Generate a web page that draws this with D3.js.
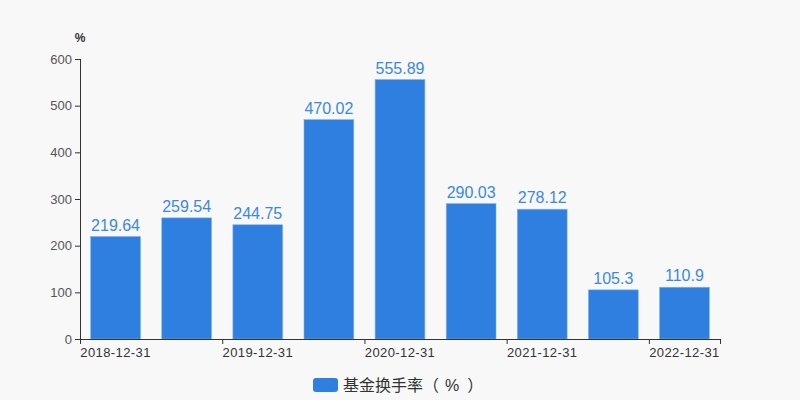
<!DOCTYPE html>
<html><head><meta charset="utf-8">
<script src="https://cdn.jsdelivr.net/npm/d3@7"></script>
<style>body{margin:0;background:#f8f8f8;}svg{display:block;} .lg{text-spacing-trim:space-all;}</style>
</head><body><svg id="c" width="800" height="400"></svg>
<script>
const categories = ["2018-12-31","2019-06-30","2019-12-31","2020-06-30","2020-12-31","2021-06-30","2021-12-31","2022-06-30","2022-12-31"];
const values = [219.64,259.54,244.75,470.02,555.89,290.03,278.12,105.3,110.9];
const labels = ["219.64","259.54","244.75","470.02","555.89","290.03","278.12","105.3","110.9"];
const yTicks = [0,100,200,300,400,500,600];
const seriesNameParts = ["基金换手率（","%","）"];

const svg = d3.select("#c");
svg.append("rect").attr("width",800).attr("height",400).attr("fill","#f8f8f8");
const font = "'Liberation Sans', Arial, 'Noto Sans CJK SC', sans-serif";
const x = d3.scaleBand().domain(categories).range([80,720]).padding(0);
const y = d3.scaleLinear().domain([0,600]).range([339,59]);
const color = "#2e7fe0";

// y axis
const ya = svg.append("g");
ya.append("line").attr("x1",80.5).attr("x2",80.5).attr("y1",y(0)).attr("y2",y(600)).attr("stroke","#333");
yTicks.forEach(t=>{
  ya.append("line").attr("x1",75).attr("x2",80).attr("y1",y(t)+0.5).attr("y2",y(t)+0.5).attr("stroke","#333");
  ya.append("text").attr("x",72).attr("y",y(t)).attr("dy","0.35em").attr("text-anchor","end")
    .attr("font-size",13).attr("fill","#555").attr("font-family",font).text(t);
});
svg.append("text").attr("x",80).attr("y",42).attr("text-anchor","middle").attr("font-size",12)
  .attr("font-weight","bold").attr("fill","#333").attr("font-family",font).text("%");

// bars
const bw = x.bandwidth()*0.7;
svg.selectAll("rect.bar").data(values).enter().append("rect").attr("class","bar")
  .attr("x",(d,i)=>x(categories[i])+(x.bandwidth()-bw)/2).attr("width",bw)
  .attr("y",d=>y(d)).attr("height",d=>y(0)-y(d))
  .attr("fill",color).attr("stroke","#7fb0ee").attr("stroke-width",0.6);
svg.selectAll("text.lbl").data(values).enter().append("text").attr("class","lbl")
  .attr("x",(d,i)=>x(categories[i])+x.bandwidth()/2).attr("y",d=>y(d)-6)
  .attr("text-anchor","middle").attr("font-size",16).attr("fill","#3b88e3").attr("font-family",font)
  .text((d,i)=>labels[i]);

// x axis
const xa = svg.append("g");
xa.append("line").attr("x1",80).attr("x2",720).attr("y1",339.5).attr("y2",339.5).attr("stroke","#333");
categories.forEach((c,i)=>{
  if(i%2===0){
    xa.append("line").attr("x1",x(c)+0.5).attr("x2",x(c)+0.5).attr("y1",339).attr("y2",344).attr("stroke","#333");
    xa.append("text").attr("x",x(c)+x.bandwidth()/2).attr("y",357).attr("text-anchor","middle")
      .attr("font-size",13).attr("letter-spacing",0.4).attr("fill","#333").attr("font-family",font).text(c);
  }
});
xa.append("line").attr("x1",720.5).attr("x2",720.5).attr("y1",339).attr("y2",344).attr("stroke","#333");

// legend
svg.append("rect").attr("x",313).attr("y",378).attr("width",25).attr("height",14).attr("rx",3).attr("fill",color);
const lt = svg.append("text").attr("class","lg").attr("x",343).attr("y",385).attr("dy","0.35em").attr("font-size",16).attr("fill","#333")
  .attr("font-family","'Noto Sans CJK SC', sans-serif");
lt.append("tspan").text(seriesNameParts[0]);
lt.append("tspan").attr("dx",6).attr("font-family","'Liberation Sans', Arial, sans-serif").text(seriesNameParts[1]);
lt.append("tspan").attr("dx",8).text(seriesNameParts[2]);
</script></body></html>
